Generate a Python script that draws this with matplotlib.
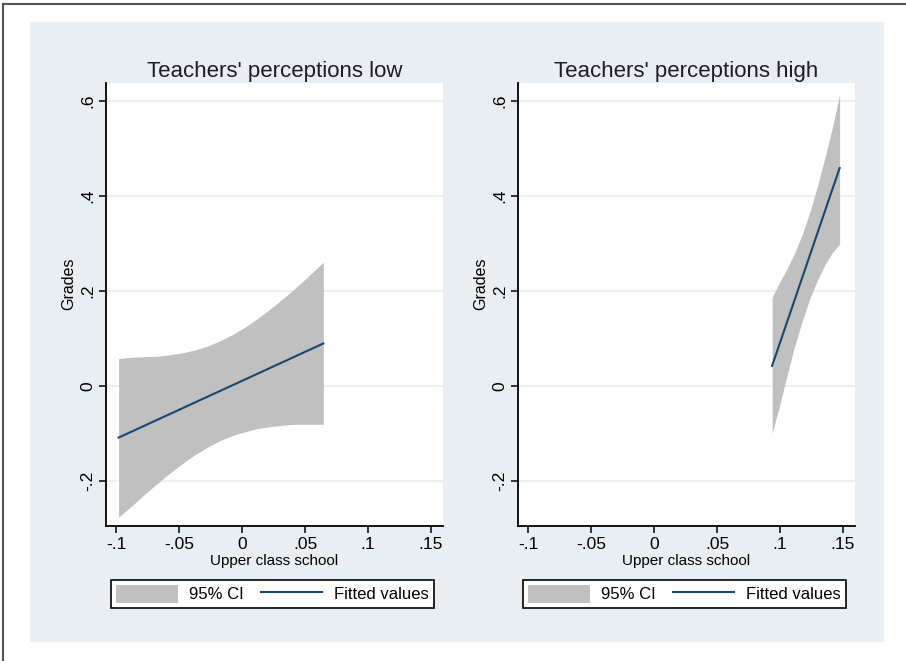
import matplotlib
matplotlib.use("Agg")
import matplotlib.pyplot as plt
from matplotlib.patches import Rectangle, Patch
from matplotlib.lines import Line2D

plt.rcParams['font.family'] = ['Liberation Sans', 'DejaVu Sans']

# Panel titles and shared labels
titles = ["Teachers' perceptions low", "Teachers' perceptions high"]
xlabel = "Upper class school"
ylabel = "Grades"
xticks = [-0.1, -0.05, 0, 0.05, 0.1, 0.15]
xticklabels = ["-.1", "-.05", "0", ".05", ".1", ".15"]
yticks = [-0.2, 0, 0.2, 0.4, 0.6]
yticklabels = ["-.2", "0", ".2", ".4", ".6"]

# Left panel (perceptions low): 95% CI band and fitted line
low_x = [-0.098, -0.088, -0.078, -0.068, -0.058, -0.048, -0.038, -0.028, -0.018,
         -0.008, 0.002, 0.012, 0.022, 0.032, 0.042, 0.052, 0.0645]
low_upper = [0.057, 0.060, 0.061, 0.062, 0.065, 0.069, 0.075, 0.083, 0.094,
             0.107, 0.123, 0.141, 0.161, 0.182, 0.205, 0.229, 0.260]
low_lower = [-0.276, -0.254, -0.230, -0.207, -0.185, -0.165, -0.146, -0.130, -0.116,
             -0.105, -0.097, -0.090, -0.086, -0.083, -0.081, -0.081, -0.081]
low_fit_x = [-0.098, 0.0645]
low_fit_y = [-0.109, 0.089]

# Right panel (perceptions high)
high_x = [0.0937, 0.0997, 0.1057, 0.1117, 0.1177, 0.1237, 0.1297, 0.1357, 0.1417, 0.1473]
high_upper = [0.186, 0.218, 0.247, 0.280, 0.319, 0.366, 0.420, 0.481, 0.545, 0.613]
high_lower = [-0.100, -0.041, 0.023, 0.084, 0.137, 0.184, 0.222, 0.255, 0.281, 0.298]
high_fit_x = [0.0937, 0.1473]
high_fit_y = [0.042, 0.458]

W, H = 906, 661
fig = plt.figure(figsize=(W / 100, H / 100), dpi=100, facecolor='white')

# outer light panel and the cropped border
fig.add_artist(Rectangle((30 / W, 1 - 642 / H), (884 - 30) / W, (642 - 22) / H,
                         transform=fig.transFigure, facecolor='#e8eef2',
                         edgecolor='none', zorder=-10))
fig.add_artist(Line2D([3 / W, 1], [1 - 4 / H, 1 - 4 / H], transform=fig.transFigure,
                      color='#555555', lw=1.5))
fig.add_artist(Line2D([3 / W, 3 / W], [0, 1 - 4 / H], transform=fig.transFigure,
                      color='#555555', lw=1.5))

ci_color = '#c0c0c0'
fit_color = '#1a476f'

panels = [(106, low_x, low_upper, low_lower, low_fit_x, low_fit_y),
          (518, high_x, high_upper, high_lower, high_fit_x, high_fit_y)]

for i, (left_px, x, up, lo, fx, fy) in enumerate(panels):
    ax = fig.add_axes([left_px / W, 1 - 526 / H, 337 / W, (526 - 83) / H])
    ax.set_facecolor('white')
    ax.fill_between(x, lo, up, color=ci_color, lw=0, zorder=2)
    ax.plot(fx, fy, color=fit_color, lw=1.5, zorder=3)

    ax.set_xlim(-0.108, 0.1595)
    ax.set_ylim(-0.295, 0.637)
    ax.set_xticks(xticks)
    ax.set_xticklabels(xticklabels)
    ax.set_yticks(yticks)
    ax.set_yticklabels(yticklabels, rotation=90, va='center')
    ax.tick_params(axis='both', direction='out', length=5, width=1.1,
                   labelsize=12.5, colors='black', pad=3)
    ax.grid(axis='y', color='#e8eef1', lw=1.2, zorder=1)
    ax.set_axisbelow(True)
    for s in ['top', 'right']:
        ax.spines[s].set_visible(False)
    for s in ['left', 'bottom']:
        ax.spines[s].set_linewidth(1.3)

    ax.set_title(titles[i], fontsize=16, color='#1c1c2a', pad=4)
    ax.set_xlabel(xlabel, fontsize=11, labelpad=1)
    ax.set_ylabel(ylabel, fontsize=11.5)
    ax.yaxis.set_label_coords(-0.087, 0.546)

    handles = [Patch(facecolor=ci_color, edgecolor='none'),
               Line2D([], [], color=fit_color, lw=1.5)]
    leg = ax.legend(handles, ["95% CI", "Fitted values"], loc='center', ncol=2,
                    bbox_to_anchor=(0.015, -0.188, 0.958, 0.07), mode='expand',
                    fancybox=False, edgecolor='black', framealpha=1,
                    borderaxespad=0, fontsize=12, handlelength=3.7,
                    handleheight=1.25, handletextpad=0.7, borderpad=0.3)
    leg.get_frame().set_linewidth(1.2)

fig.savefig('out.png', dpi=100, facecolor='white')
